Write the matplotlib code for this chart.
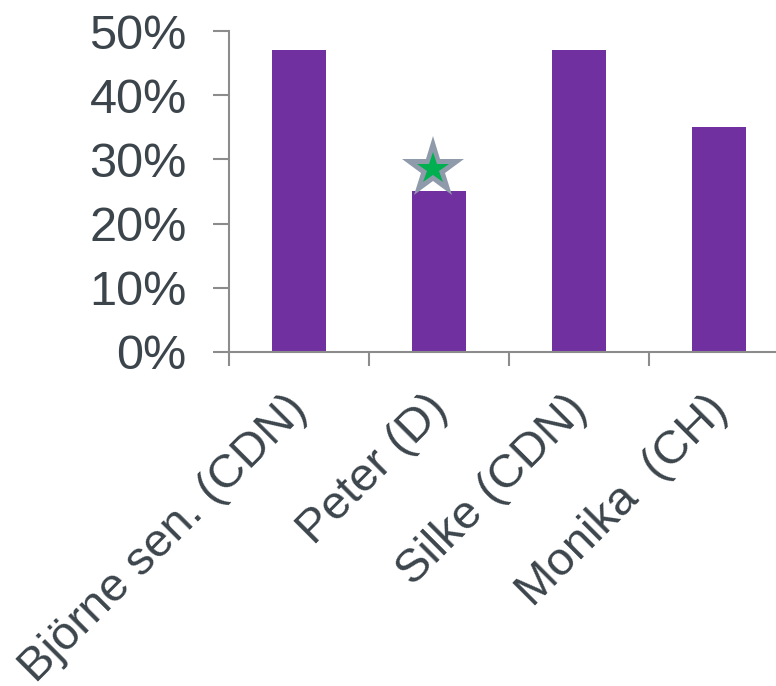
import matplotlib
matplotlib.use("Agg")
import matplotlib.pyplot as plt
from matplotlib.ticker import PercentFormatter
from matplotlib.transforms import ScaledTranslation

# shares per person, plus the single highlighted benchmark
names = ["Björne sen. (CDN)", "Peter (D)", "Silke (CDN)", "Monika  (CH)"]
shares = [0.47, 0.25, 0.47, 0.35]
star_name = "Peter (D)"
star_value = 0.285
y_ticks = [0.0, 0.1, 0.2, 0.3, 0.4, 0.5]

BAR_COLOR = "#7030a0"
AXIS_COLOR = "#8c8c8c"
TEXT_COLOR = "#3b454b"

plt.rcParams["font.family"] = ["Liberation Sans", "DejaVu Sans"]

fig = plt.figure(figsize=(7.76, 6.86), dpi=100)
ax = fig.add_axes([0.2951, 0.4869, 0.7216, 0.4679])

x = list(range(len(names)))
ax.bar(x, shares, width=0.39, color=BAR_COLOR, zorder=2)

# star marker sitting on Peter's bar
sx = names.index(star_name) - 0.04
ax.plot(sx, star_value, marker="*", markersize=47, color="#8f9bab",
        markeredgewidth=0, zorder=3, clip_on=False)
ax.plot(sx, star_value, marker="*", markersize=24, color="#00b050",
        markeredgewidth=0, zorder=4, clip_on=False)

ax.set_xlim(-0.5, len(names) - 0.5)
ax.set_ylim(0, 0.5)
ax.set_yticks(y_ticks)
ax.yaxis.set_major_formatter(PercentFormatter(1.0, decimals=0))

# tick marks on category boundaries, rotated names under each bar
ax.set_xticks([i - 0.5 for i in range(len(names) + 1)])
ax.set_xticklabels([])
offset = ScaledTranslation(-0.14, -0.35, fig.dpi_scale_trans)
for i, name in zip(x, names):
    ax.text(i, 0, name, transform=ax.get_xaxis_transform() + offset,
            rotation=45, ha="right", va="top", rotation_mode="anchor",
            fontsize=34, color=TEXT_COLOR, clip_on=False)

ax.tick_params(axis="x", length=10, width=1.5, color=AXIS_COLOR)
ax.tick_params(axis="y", length=11.5, width=1.5, color=AXIS_COLOR,
               labelsize=35, labelcolor=TEXT_COLOR, pad=19)

for side in ["top", "right"]:
    ax.spines[side].set_visible(False)
for side in ["left", "bottom"]:
    ax.spines[side].set_color(AXIS_COLOR)
    ax.spines[side].set_linewidth(1.5)

fig.savefig("out.png", dpi=100)
